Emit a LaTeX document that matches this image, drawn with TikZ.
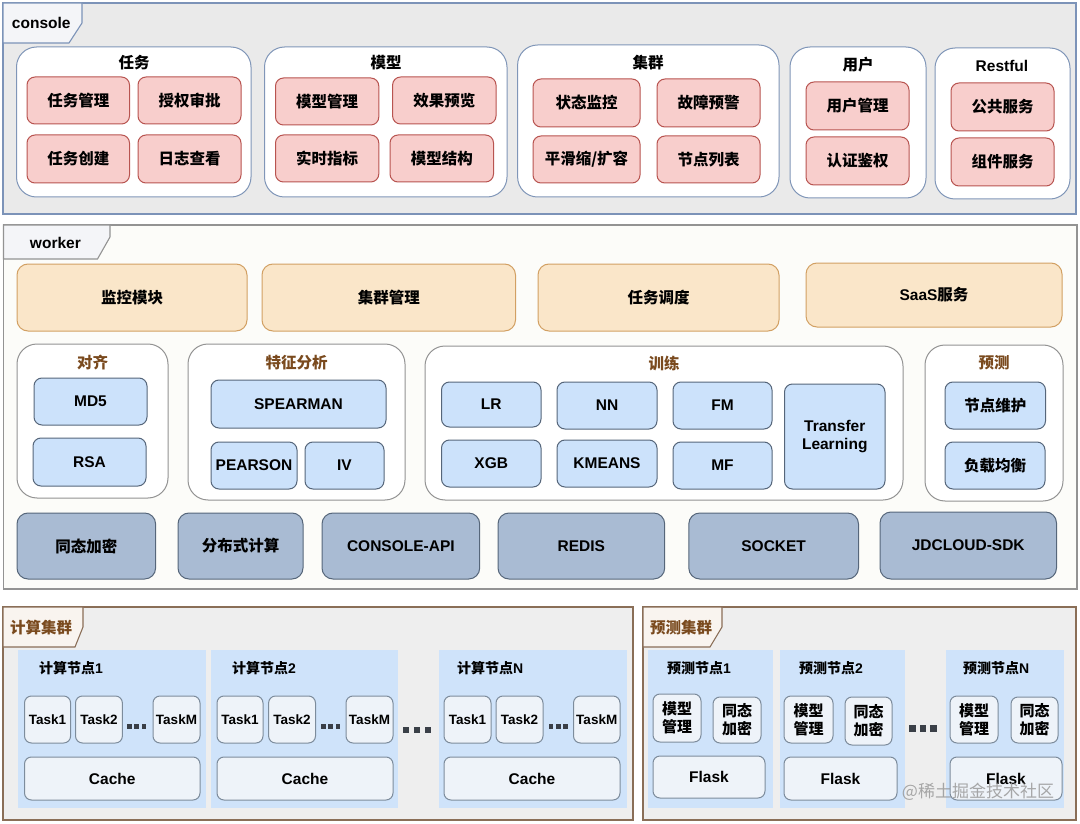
\documentclass[tikz,border=0pt]{standalone}
\usepackage{fontspec}
\setmainfont{Liberation Sans}
\newfontfamily\cjk{Noto Sans CJK SC}
\newcommand\zh[1]{{\cjk #1}}
\definecolor{conbg}{HTML}{EAEAEA}
\definecolor{conline}{HTML}{7C93B8}
\definecolor{tabbg}{HTML}{F4F5F8}
\definecolor{pinkfill}{HTML}{F8CECC}
\definecolor{pinkline}{HTML}{B85450}
\definecolor{grpline}{HTML}{8096B8}
\definecolor{wbg}{HTML}{FCFCF9}
\definecolor{wline}{HTML}{939393}
\definecolor{orfill}{HTML}{FAE6C9}
\definecolor{orline}{HTML}{D2A063}
\definecolor{bluefill}{HTML}{CCE2FB}
\definecolor{blueline}{HTML}{56667A}
\definecolor{steel}{HTML}{A9BBD3}
\definecolor{brownt}{HTML}{7A4A1E}
\definecolor{clbg}{HTML}{EEEEEE}
\definecolor{clline}{HTML}{8A6E57}
\definecolor{cltab}{HTML}{F9F4EF}
\definecolor{nodebg}{HTML}{CFE3FA}
\definecolor{taskfill}{HTML}{EEF3F9}
\definecolor{taskline}{HTML}{7D8C9C}
\definecolor{dotc}{HTML}{3A3F47}
\newcommand\mkbox[7]{\node[#1, minimum width={(#5-#3)*1pt}, minimum height={(#6-#4)*1pt}] (#2) at ({(#3+#5)/2},{(#4+#6)/2}) {#7};}
\newcommand\dotrow[1]{\rule{#1}{#1}\hspace{2.6pt}\rule{#1}{#1}\hspace{2.6pt}\rule{#1}{#1}}
\tikzset{
  base/.style={font=\bfseries\fontsize{15.5}{18}\selectfont, inner sep=0pt, outer sep=0pt, align=center, text=black},
  outerbox/.style={inner sep=0pt, outer sep=0pt, line width=1.1pt},
  tabshape/.style={line width=1.1pt},
  pinkbox/.style={base, draw=pinkline, fill=pinkfill, rounded corners=8pt, line width=1pt},
  cgroup/.style={inner sep=0pt, draw=grpline, fill=white, rounded corners=20pt, line width=1pt},
  wgroup/.style={inner sep=0pt, draw=wline, fill=white, rounded corners=20pt, line width=1pt},
  orbox/.style={base, draw=orline, fill=orfill, rounded corners=11pt, line width=1pt},
  bluebox/.style={base, draw=blueline, fill=bluefill, rounded corners=8pt, line width=1pt},
  steelbox/.style={base, draw=blueline, fill=steel, rounded corners=11pt, line width=1pt},
  nodebgbox/.style={inner sep=0pt, fill=nodebg},
  taskbox/.style={base, font=\bfseries\fontsize{13.5}{16}\selectfont, draw=taskline, fill=taskfill, rounded corners=7pt, line width=1pt},
  cachebox/.style={base, draw=taskline, fill=taskfill, rounded corners=7pt, line width=1pt},
  smallbox/.style={base, font=\bfseries\fontsize{15}{18}\selectfont, draw=taskline, fill=taskfill, rounded corners=7pt, line width=1pt},
  gtitle/.style={base},
  wtitle/.style={base, text=brownt},
  ntitle/.style={base, font=\bfseries\fontsize{14}{16}\selectfont, anchor=west},
  tabtext/.style={base, anchor=west},
  dots/.style={inner sep=0pt, text=dotc},
}
\begin{document}
\begin{tikzpicture}[x=1pt,y=-1pt]
\useasboundingbox (0,0) rectangle (1080,824);
% ================= console =================
\mkbox{outerbox, draw=conline, fill=conbg}{console}{3}{3}{1076}{214}{}
\draw[tabshape, draw=conline, fill=tabbg] (3,3) -- (82,3) -- (82,23) -- (69,43) -- (3,43) -- cycle;
\node[tabtext] (consoletxt) at (12,23) {console};
% groups
\mkbox{cgroup}{g1}{16.5}{47}{251}{197}{}
\mkbox{cgroup}{g2}{264.5}{47}{507}{197}{}
\mkbox{cgroup}{g3}{517.6}{45}{779}{197}{}
\mkbox{cgroup}{g4}{790}{47}{926}{198}{}
\mkbox{cgroup}{g5}{935}{48}{1070}{199}{}
\node[gtitle] (g1t) at (134,63) {\zh{任务}};
\node[gtitle] (g2t) at (386,63) {\zh{模型}};
\node[gtitle] (g3t) at (648,63) {\zh{集群}};
\node[gtitle] (g4t) at (858,65) {\zh{用户}};
\node[gtitle] (g5t) at (1002,66) {Restful};
\mkbox{pinkbox}{p1}{27}{77}{129.5}{124}{\zh{任务管理}}
\mkbox{pinkbox}{p2}{138}{77}{241}{124}{\zh{授权审批}}
\mkbox{pinkbox}{p3}{27}{135}{129.5}{183}{\zh{任务创建}}
\mkbox{pinkbox}{p4}{138}{135}{241}{183}{\zh{日志查看}}
\mkbox{pinkbox}{p5}{275.5}{78}{378.8}{125}{\zh{模型管理}}
\mkbox{pinkbox}{p6}{392.6}{77}{496}{124}{\zh{效果预览}}
\mkbox{pinkbox}{p7}{275.5}{135}{378.8}{182}{\zh{实时指标}}
\mkbox{pinkbox}{p8}{390}{135}{493.5}{182}{\zh{模型结构}}
\mkbox{pinkbox}{p9}{533}{79}{640}{127}{\zh{状态监控}}
\mkbox{pinkbox}{p10}{657}{79}{760}{127}{\zh{故障预警}}
\mkbox{pinkbox}{p11}{533}{136}{640}{183}{\zh{平滑缩/扩容}}
\mkbox{pinkbox}{p12}{657}{136}{760}{183}{\zh{节点列表}}
\mkbox{pinkbox}{p13}{806}{82}{909}{130}{\zh{用户管理}}
\mkbox{pinkbox}{p14}{806}{137}{909}{185}{\zh{认证鉴权}}
\mkbox{pinkbox}{p15}{951}{83}{1054}{131}{\zh{公共服务}}
\mkbox{pinkbox}{p16}{951}{138}{1054}{186}{\zh{组件服务}}
% ================= worker =================
\mkbox{outerbox, draw=wline, fill=wbg}{worker}{3.5}{225}{1077}{589}{}
\draw[tabshape, draw=wline, fill=tabbg] (3.5,225) -- (110,225) -- (110,237) -- (97.5,259) -- (3.5,259) -- cycle;
\node[tabtext] (workertxt) at (30,243) {worker};
\mkbox{orbox}{o1}{17}{264}{247}{331}{\zh{监控模块}}
\mkbox{orbox}{o2}{262}{264}{515.5}{331}{\zh{集群管理}}
\mkbox{orbox}{o3}{538}{264}{779}{331}{\zh{任务调度}}
\mkbox{orbox}{o4}{806}{263}{1062}{327}{SaaS\zh{服务}}
\mkbox{wgroup}{w1}{17}{344}{168}{498}{}
\mkbox{wgroup}{w2}{188}{344}{405}{500}{}
\mkbox{wgroup}{w3}{425}{346}{903}{500}{}
\mkbox{wgroup}{w4}{925}{345}{1063}{501}{}
\node[wtitle] (w1t) at (92.5,363) {\zh{对齐}};
\node[wtitle] (w2t) at (296.5,363) {\zh{特征分析}};
\node[wtitle] (w3t) at (664,364) {\zh{训练}};
\node[wtitle] (w4t) at (994,363) {\zh{预测}};
\mkbox{bluebox}{b1}{34}{378}{147}{425}{MD5}
\mkbox{bluebox}{b2}{33}{438}{146}{486}{RSA}
\mkbox{bluebox}{b3}{211}{380}{386}{428}{SPEARMAN}
\mkbox{bluebox}{b4}{211}{442}{297}{489}{PEARSON}
\mkbox{bluebox}{b5}{305}{442}{384}{489}{IV}
\mkbox{bluebox}{b6}{441.5}{382}{541}{427}{LR}
\mkbox{bluebox}{b7}{441.5}{440}{541}{487}{XGB}
\mkbox{bluebox}{b8}{557}{382}{657}{429}{NN}
\mkbox{bluebox}{b9}{557}{440}{657}{487}{KMEANS}
\mkbox{bluebox}{b10}{673}{382}{772}{429}{FM}
\mkbox{bluebox}{b11}{673}{442}{772}{489}{MF}
\mkbox{bluebox}{b12}{784.5}{384}{885}{489}{Transfer\\Learning}
\mkbox{bluebox}{b13}{945}{382}{1045.5}{429}{\zh{节点维护}}
\mkbox{bluebox}{b14}{945}{442}{1045}{489}{\zh{负载均衡}}
\mkbox{steelbox}{s1}{17}{513}{155.6}{579}{\zh{同态加密}}
\mkbox{steelbox}{s2}{178}{513}{303}{579}{\zh{分布式计算}}
\mkbox{steelbox}{s3}{322}{513}{479.7}{579}{CONSOLE-API}
\mkbox{steelbox}{s4}{498}{513}{664.7}{579}{REDIS}
\mkbox{steelbox}{s5}{688.8}{513}{858.5}{579}{SOCKET}
\mkbox{steelbox}{s6}{880}{512}{1056.5}{579}{JDCLOUD-SDK}
% ================= compute cluster =================
\mkbox{outerbox, draw=clline, fill=clbg}{ccluster}{3}{607}{633}{820}{}
\draw[tabshape, draw=clline, fill=cltab] (3,607) -- (83,607) -- (83,627) -- (75,647) -- (3,647) -- cycle;
\node[tabtext, text=brownt] (cctxt) at (10,628) {\zh{计算集群}};
\mkbox{nodebgbox}{cn1}{18}{650}{206}{808}{}
\mkbox{nodebgbox}{cn2}{211}{650}{398}{808}{}
\mkbox{nodebgbox}{cn3}{439}{650}{626.5}{808}{}
\node[ntitle] (cn1t) at (39,668) {\zh{计算节点}1};
\node[ntitle] (cn2t) at (232,668) {\zh{计算节点}2};
\node[ntitle] (cn3t) at (457,668) {\zh{计算节点}N};
\mkbox{taskbox}{t11}{24.5}{696}{70.6}{743}{Task1}
\mkbox{taskbox}{t12}{75.5}{696}{122.4}{743}{Task2}
\mkbox{taskbox}{t13}{153}{696}{200}{743}{TaskM}
\node[dots] (d1) at (136.7,726.5) {\dotrow{4.6pt}};
\mkbox{taskbox}{t21}{217}{696}{263}{743}{Task1}
\mkbox{taskbox}{t22}{268.6}{696}{315.5}{743}{Task2}
\mkbox{taskbox}{t23}{346}{696}{393}{743}{TaskM}
\node[dots] (d2) at (330.7,726.5) {\dotrow{4.6pt}};
\mkbox{taskbox}{t31}{444}{696}{491}{743}{Task1}
\mkbox{taskbox}{t32}{496}{696}{543}{743}{Task2}
\mkbox{taskbox}{t33}{573.5}{696}{620}{743}{TaskM}
\node[dots] (d3) at (558.2,726.5) {\dotrow{4.6pt}};
\node[dots] (dc) at (416.5,730) {\rule{6pt}{6pt}\hspace{5pt}\rule{6pt}{6pt}\hspace{5pt}\rule{6pt}{6pt}};
\mkbox{cachebox}{c1}{24.5}{757}{200}{800}{Cache}
\mkbox{cachebox}{c2}{217}{757}{393}{800}{Cache}
\mkbox{cachebox}{c3}{444}{757}{620}{800}{Cache}
% ================= predict cluster =================
\mkbox{outerbox, draw=clline, fill=clbg}{pcluster}{643}{607}{1076}{820}{}
\draw[tabshape, draw=clline, fill=cltab] (643,607) -- (722,607) -- (722,627) -- (710,647) -- (643,647) -- cycle;
\node[tabtext, text=brownt] (pctxt) at (650,628) {\zh{预测集群}};
\mkbox{nodebgbox}{pn1}{648}{650}{773}{808}{}
\mkbox{nodebgbox}{pn2}{780}{650}{905}{808}{}
\mkbox{nodebgbox}{pn3}{946}{650}{1064}{808}{}
\node[ntitle] (pn1t) at (667,668) {\zh{预测节点}1};
\node[ntitle] (pn2t) at (799,668) {\zh{预测节点}2};
\node[ntitle] (pn3t) at (963,668) {\zh{预测节点}N};
\mkbox{smallbox}{m11}{653}{694}{701}{742}{\zh{模型}\\\zh{管理}}
\mkbox{smallbox}{m12}{713}{697}{761}{743}{\zh{同态}\\\zh{加密}}
\mkbox{cachebox}{f1}{653}{756}{765}{798}{Flask}
\mkbox{smallbox}{m21}{784}{696}{833}{743}{\zh{模型}\\\zh{管理}}
\mkbox{smallbox}{m22}{845}{697}{892}{745}{\zh{同态}\\\zh{加密}}
\mkbox{cachebox}{f2}{784}{757}{897}{800}{Flask}
\mkbox{smallbox}{m31}{950}{696}{998}{743}{\zh{模型}\\\zh{管理}}
\mkbox{smallbox}{m32}{1011}{697}{1058}{743}{\zh{同态}\\\zh{加密}}
\mkbox{cachebox}{f3}{950}{757}{1062}{800}{Flask}
\node[dots] (dp) at (923,728.5) {\rule{6.5pt}{6.5pt}\hspace{4pt}\rule{6.5pt}{6.5pt}\hspace{4pt}\rule{6.5pt}{6.5pt}};
% watermark
\node[inner sep=0pt, font=\cjk\fontsize{17}{17}\selectfont, text=black!40, opacity=0.85] (wm) at (978,792) {@稀土掘金技术社区};
\end{tikzpicture}
\end{document}
